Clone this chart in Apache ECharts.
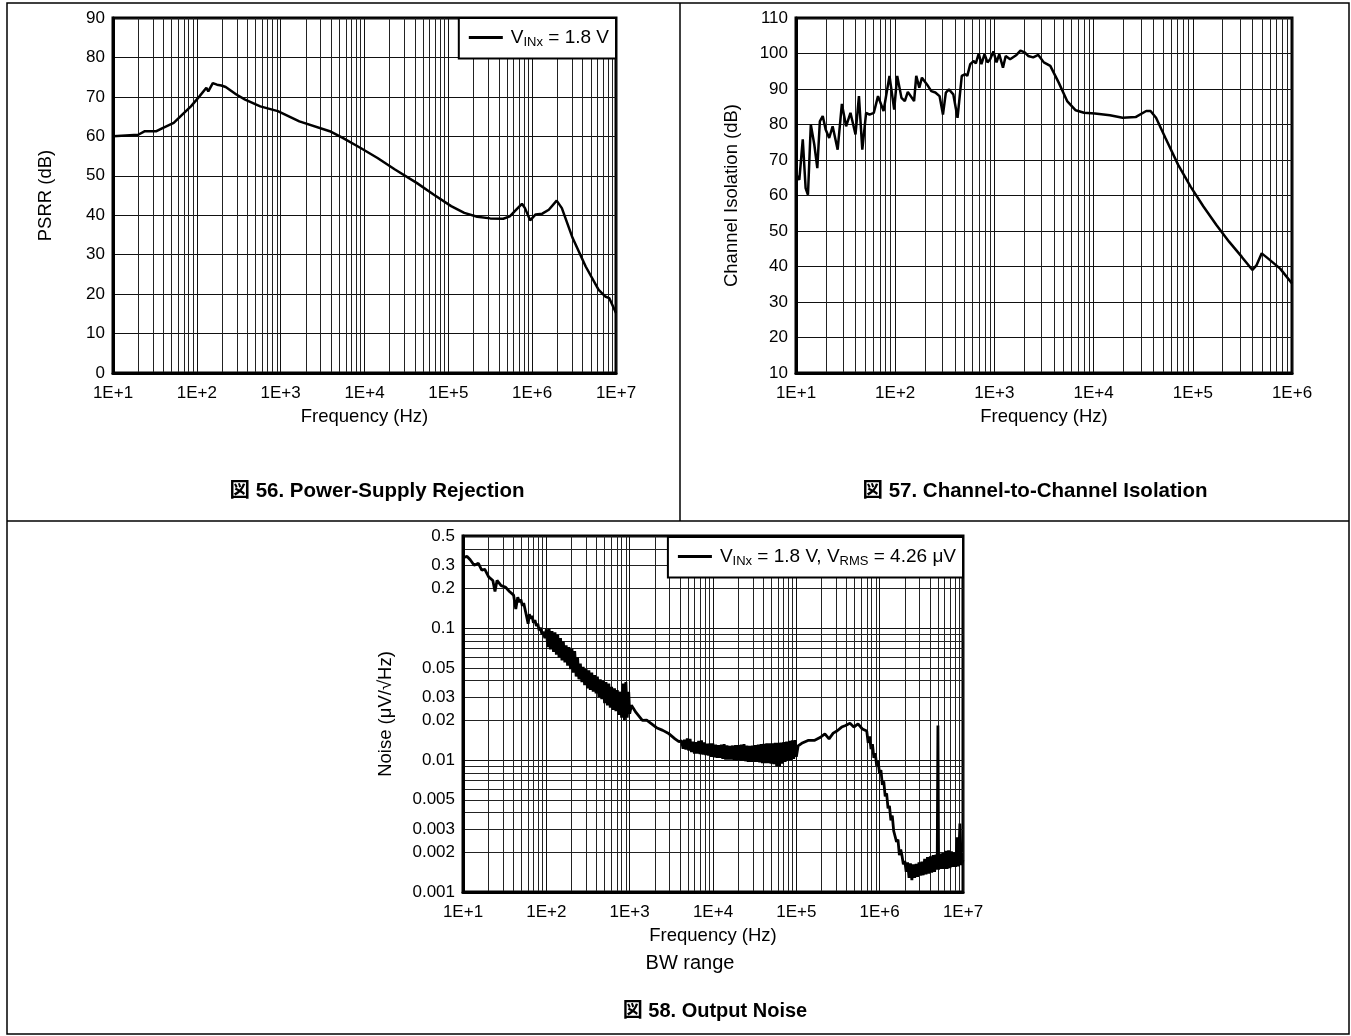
<!DOCTYPE html>
<html>
<head>
<meta charset="utf-8">
<script src="https://cdn.jsdelivr.net/npm/echarts@6/dist/echarts.min.js"></script>
<style>
html, body { margin: 0; padding: 0; background: #fff; }
#main { width: 1351px; height: 1036px; }
</style>
</head>
<body>
<div id="main"></div>
<script>
// ---- figure 56: PSRR ----
var psrrFreq = [10, 20, 24, 33, 39, 53, 67, 85, 108, 130, 137, 155, 174, 196, 221, 296, 377, 571, 925, 1670,
    3850, 5500, 8890, 14300, 23100, 41900, 67300, 108000, 155000, 221000, 316000, 452000, 541000, 646000,
    755000, 820000, 946000, 1100000, 1320000, 1580000, 1960000, 2260000, 3040000, 4350000, 6210000,
    7430000, 8300000, 10000000];
var psrrDb = [60.0, 60.4, 61.3, 61.3, 62.1, 63.4, 65.5, 67.6, 70.2, 72.3, 71.4, 73.5, 73.1, 72.9, 72.5, 70.6,
    69.3, 67.6, 66.4, 63.8, 61.3, 59.6, 57.1, 54.5, 51.6, 48.2, 45.2, 42.3, 40.6, 39.6, 39.2, 39.1, 39.7, 41.4,
    42.9, 41.8, 38.7, 40.2, 40.4, 41.4, 43.7, 41.8, 34.2, 27.0, 21.1, 19.4, 19.0, 15.2];

// ---- figure 57: channel isolation ----
var isoFreq = [10, 10.8, 11.7, 12.5, 13.2, 14.1, 15.3, 16.4, 17.4, 18.6, 19.9, 21.6, 23.4, 26.3, 29.0, 32.0,
    35.4, 39.8, 43.1, 46.6, 50.9, 55.1, 60.9, 67.1, 76.3, 87.6, 97.7, 104.8, 115.7, 125, 134, 155, 163, 175,
    186, 209, 231, 254, 280, 303, 324, 348, 385, 425, 469, 508, 533, 571, 620, 650, 695, 740, 795, 852, 906,
    978, 1050, 1120, 1220, 1300, 1440, 1670, 1830, 2020, 2190, 2460, 2770, 3150, 3660, 4450, 5410, 6600,
    8000, 10300, 14600, 19600, 26500, 33900, 37500, 42600, 53000, 71000, 95000, 128000, 173000, 232000,
    312000, 399000, 440000, 495000, 560000, 760000, 1000000];
var isoDb = [66.0, 64.4, 75.8, 62.1, 60.2, 80.0, 74.3, 67.7, 80.9, 82.4, 78.6, 76.2, 79.5, 72.9, 85.8, 79.5,
    83.3, 77.2, 88.0, 72.9, 83.3, 82.8, 83.3, 88.0, 83.8, 93.7, 84.2, 93.7, 87.5, 86.6, 89.2, 86.6, 93.7, 90.4,
    93.2, 91.3, 89.4, 89.0, 88.0, 82.8, 89.0, 89.9, 88.5, 81.9, 93.7, 94.2, 93.7, 97.0, 97.9, 97.2, 100.0, 97.0,
    99.8, 97.5, 98.4, 100.6, 97.5, 99.8, 96.0, 99.3, 98.4, 99.6, 100.8, 100.3, 99.3, 98.9, 99.6, 97.5, 96.5,
    91.8, 86.6, 84.0, 83.3, 83.1, 82.6, 81.9, 82.1, 83.8, 83.8, 81.9, 76.2, 68.7, 62.5, 56.9, 51.7, 47.0, 42.7,
    39.0, 40.4, 43.7, 42.5, 39.4, 35.2];

// ---- figure 58: output noise (noisy bands read as upper/lower excursions) ----
var noiseFreq = [10, 11.2, 12.2, 13.6, 15.3, 16.8, 18.2, 20.3, 22.8, 24.2, 25.6, 28.7, 32.2, 36.1, 40.5, 43,
    45.4, 47.5, 49.5, 51.5, 53.5, 55.7, 58, 60.5, 62.5, 65, 67.5, 70, 73, 76, 79, 82, 85, 88.5, 92, 96,
    100, 104, 108, 112, 117, 122, 127, 132, 137, 142, 148, 154, 160, 167, 173, 180, 187, 195, 203, 211, 219,
    228, 237, 246, 256, 267, 277, 288, 300, 312, 324, 337, 351, 365, 379, 395, 410, 427, 444, 462, 480, 500,
    520, 540, 562, 585, 608, 632, 658, 684, 711, 740, 770, 800, 832, 866, 900, 936, 974, 1000,
    1050, 1190, 1420, 1600, 1800, 2100, 2500, 2900, 3500, 3900,
    4200, 4370, 4540, 4720, 4910, 5110, 5310, 5520, 5750, 5980, 6220, 6460, 6720, 6990, 7270, 7560, 7860,
    8180, 8500, 8840, 9200, 9570, 9950, 10350, 10760, 11190, 11640, 12100, 12590, 13090, 13610, 14160,
    14720, 15310, 15930, 16560, 17230, 17910, 18630, 19370, 20150, 20950, 21790, 22660, 23570, 24510,
    25490, 26510, 27570, 28670, 29820, 31010, 32250, 33540, 34880, 36280, 37730, 39240, 40810, 42440,
    44140, 45900, 47740, 49650, 51630, 53700, 55850, 58080, 60400, 62820, 65330, 67940, 70660, 73490,
    76420, 79480, 82660, 85970, 89410, 92980, 96700, 100000,
    105000, 116000, 138000, 164000, 195000, 220000, 247000, 277000, 310000, 350000, 390000, 440000, 490000,
    550000, 620000,
    700000, 728000, 757000, 787000, 819000, 852000, 886000, 921000, 958000, 996000, 1036000, 1077000,
    1120000, 1165000, 1212000, 1260000, 1310000, 1363000, 1417000, 1474000, 1533000, 1594000, 1658000,
    1724000, 1790000,
    1850000, 1924000, 2001000, 2081000, 2164000, 2251000, 2341000, 2435000, 2532000, 2633000, 2738000,
    2848000, 2962000, 3080000, 3203000, 3331000, 3465000, 3603000, 3748000, 3898000, 4054000, 4216000,
    4384000, 4560000, 4742000, 4900000, 5000000, 5100000, 5300000, 5510000, 5730000, 5960000, 6200000,
    6450000, 6710000, 6980000, 7260000, 7550000, 7850000, 8160000, 8490000, 8830000, 9180000, 9550000,
    10000000];
var noiseVal = [0.343, 0.35, 0.33, 0.30, 0.31, 0.275, 0.28, 0.245, 0.23, 0.19, 0.23, 0.21, 0.205, 0.19, 0.178,
    0.14, 0.172, 0.158, 0.165, 0.148, 0.155, 0.138, 0.140, 0.108, 0.128, 0.118, 0.124, 0.110, 0.115, 0.104,
    0.108, 0.096, 0.101, 0.090, 0.094, 0.084,
    0.098, 0.072, 0.099, 0.069, 0.095, 0.066, 0.093, 0.063, 0.089, 0.060, 0.084, 0.057, 0.079, 0.055, 0.074,
    0.052, 0.072, 0.049, 0.070, 0.046, 0.067, 0.043, 0.060, 0.041, 0.054, 0.039, 0.051, 0.037, 0.049, 0.035,
    0.048, 0.034, 0.046, 0.033, 0.044, 0.032, 0.043, 0.030, 0.041, 0.029, 0.040, 0.027, 0.039, 0.026, 0.038,
    0.025, 0.036, 0.024, 0.035, 0.0235, 0.034, 0.022, 0.033, 0.021, 0.038, 0.020, 0.039, 0.021, 0.033, 0.0225,
    0.026, 0.023, 0.020, 0.0201, 0.019, 0.0176, 0.0168, 0.016, 0.0145, 0.0138,
    0.0140, 0.0122, 0.0143, 0.0120, 0.0146, 0.0118, 0.0145, 0.0115, 0.0138, 0.0112, 0.0137, 0.0112, 0.0140,
    0.0111, 0.0141, 0.0110, 0.0136, 0.0109, 0.0133, 0.0108, 0.0134, 0.0106, 0.0134, 0.0105, 0.0131, 0.0104,
    0.0130, 0.0104, 0.0131, 0.0102, 0.0132, 0.0101, 0.0129, 0.0101, 0.0128, 0.0101, 0.0129, 0.0100, 0.0130,
    0.0099, 0.0130, 0.0099, 0.0131, 0.0099, 0.0132, 0.0098, 0.0129, 0.0097, 0.0128, 0.0097, 0.0129, 0.0097,
    0.0130, 0.0097, 0.0131, 0.0096, 0.0132, 0.0095, 0.0133, 0.0095, 0.0134, 0.0095, 0.0134, 0.0094, 0.0134,
    0.0093, 0.0135, 0.0090, 0.0135, 0.0089, 0.0136, 0.0094, 0.0137, 0.0097, 0.0138, 0.0099, 0.0140, 0.0100,
    0.0141, 0.0102, 0.0142, 0.0106,
    0.0128, 0.0134, 0.0141, 0.0141, 0.0149, 0.0158, 0.0145, 0.016, 0.0167, 0.0178, 0.0183, 0.019, 0.0178,
    0.0188, 0.0172,
    0.0166, 0.0135, 0.0151, 0.0121, 0.0132, 0.0104, 0.0113, 0.0090, 0.0099, 0.0079, 0.0084, 0.0065, 0.0069,
    0.0053, 0.0056, 0.0043, 0.0045, 0.0035, 0.0038, 0.0029, 0.0030, 0.0024, 0.0025, 0.0019, 0.0021,
    0.00190, 0.00162, 0.00172, 0.00142, 0.00168, 0.00128, 0.00165, 0.00123, 0.00162, 0.00128, 0.00163,
    0.00130, 0.00168, 0.00133, 0.00170, 0.00134, 0.00178, 0.00136, 0.00184, 0.00138, 0.00186, 0.00140,
    0.00190, 0.00142, 0.00192, 0.00148, 0.0183, 0.00148, 0.00195, 0.00150, 0.00198, 0.00150, 0.00205,
    0.00150, 0.00207, 0.00152, 0.00203, 0.00155, 0.00200, 0.00155, 0.00260, 0.00156, 0.00330, 0.00160,
    0.00175];
var noiseTicks = [0.001, 0.002, 0.003, 0.005, 0.01, 0.02, 0.03, 0.05, 0.1, 0.2, 0.3, 0.5];

var FONT = '"Liberation Sans", Arial, "Noto Sans CJK JP", sans-serif';
var myChart = echarts.init(document.getElementById('main'));

function zip(xs, ys) {
    return xs.map(function (x, i) { return [x, ys[i]]; });
}
function freqLabel(v) {
    return '1E+' + Math.round(Math.log10(v));
}

function freqAxis(idx, max) {
    return {
        type: 'log', logBase: 10, gridIndex: idx, min: 10, max: max,
        name: 'Frequency (Hz)', nameLocation: 'middle', nameGap: 35,
        nameTextStyle: { color: '#000', fontSize: 18.5, fontFamily: FONT },
        axisLine: { show: true, lineStyle: { color: '#000', width: 3 } },
        axisTick: { show: false },
        axisLabel: { color: '#000', fontSize: 17, fontFamily: FONT, margin: 12, formatter: freqLabel },
        splitLine: { show: true, lineStyle: { color: '#111', width: 1 } },
        minorTick: { show: false, splitNumber: 9 },
        minorSplitLine: { show: true, lineStyle: { color: '#222', width: 1 } }
    };
}

function dbAxis(idx, min, max, name, gap) {
    return {
        type: 'value', gridIndex: idx, min: min, max: max, interval: 10,
        name: name, nameLocation: 'middle', nameGap: gap,
        nameTextStyle: { color: '#000', fontSize: 18.5, fontFamily: FONT },
        axisLine: { show: true, lineStyle: { color: '#000', width: 3 } },
        axisTick: { show: false },
        axisLabel: { color: '#000', fontSize: 17, fontFamily: FONT, margin: 8 },
        splitLine: { show: true, lineStyle: { color: '#111', width: 1 } }
    };
}

var legendRich = {
    g: { width: 3 },
    n: { fontSize: 19, fontFamily: FONT, color: '#000', lineHeight: 22 },
    s: { fontSize: 13, fontFamily: FONT, color: '#000', lineHeight: 13, verticalAlign: 'bottom' }
};

function legendOf(seriesName, right, top, text) {
    return {
        data: [seriesName], right: right, top: top, orient: 'horizontal',
        selectedMode: false, icon: 'rect', itemWidth: 34, itemHeight: 3,
        padding: [10, 7, 10, 10],
        borderColor: '#000', borderWidth: 2, backgroundColor: '#fff',
        formatter: function () { return text; },
        textStyle: { rich: legendRich }
    };
}

function lineSeries(name, xi, data, width) {
    return {
        name: name, type: 'line', xAxisIndex: xi, yAxisIndex: xi,
        data: data, symbol: 'none', showSymbol: false,
        lineStyle: { color: '#000', width: width }, itemStyle: { color: '#000' },
        clip: true
    };
}

function gridOf(left, top, width, height) {
    return {
        left: left, top: top, width: width, height: height,
        containLabel: false, outerBoundsMode: 'none',
        show: true, borderColor: '#000', borderWidth: 3, backgroundColor: 'transparent'
    };
}

var option = {
    animation: false,
    backgroundColor: '#fff',
    grid: [
        gridOf(113, 18, 503, 355),
        gridOf(796, 18, 496, 355),
        gridOf(463, 536, 500, 356)
    ],
    xAxis: [freqAxis(0, 1e7), freqAxis(1, 1e6), freqAxis(2, 1e7)],
    yAxis: [
        dbAxis(0, 0, 90, 'PSRR (dB)', 58),
        dbAxis(1, 10, 110, 'Channel Isolation (dB)', 55),
        {
            type: 'log', logBase: 10, gridIndex: 2, min: 0.001, max: 0.5,
            name: 'Noise (\u03bcV/\u221aHz)', nameLocation: 'middle', nameGap: 68,
            nameTextStyle: { color: '#000', fontSize: 18.5, fontFamily: FONT },
            axisLine: { show: true, lineStyle: { color: '#000', width: 3 } },
            axisTick: { show: false },
            axisLabel: {
                color: '#000', fontSize: 17, fontFamily: FONT, margin: 8,
                customValues: noiseTicks,
                formatter: function (v) { return String(parseFloat(Number(v).toPrecision(2))); }
            },
            splitLine: { show: true, lineStyle: { color: '#111', width: 1 } },
            minorTick: { show: false, splitNumber: 9 },
            minorSplitLine: { show: true, lineStyle: { color: '#222', width: 1 } }
        }
    ],
    legend: [
        legendOf('psrr', 1351 - 616, 18, '{g|}{n|V}{s|INx}{n| = 1.8 V}'),
        legendOf('noise', 1351 - 963, 537, '{g|}{n|V}{s|INx}{n| = 1.8 V, V}{s|RMS}{n| = 4.26 \u03bcV}')
    ],
    series: [
        lineSeries('psrr', 0, zip(psrrFreq, psrrDb), 2.5),
        lineSeries('iso', 1, zip(isoFreq, isoDb), 2.5),
        lineSeries('noise', 2, zip(noiseFreq, noiseVal), 2.8)
    ],
    graphic: [
        { type: 'rect', silent: true, z: 100, shape: { x: 7, y: 3, width: 1342, height: 1031 },
          style: { fill: 'none', stroke: '#000', lineWidth: 1.5 } },
        { type: 'line', silent: true, z: 100, shape: { x1: 680, y1: 3, x2: 680, y2: 521 },
          style: { stroke: '#000', lineWidth: 1.5 } },
        { type: 'line', silent: true, z: 100, shape: { x1: 7, y1: 521, x2: 1349, y2: 521 },
          style: { stroke: '#000', lineWidth: 1.5 } },
        { type: 'text', silent: true, x: 377, y: 491,
          style: { text: '\u56f3 56. Power-Supply Rejection', font: 'bold 20.5px ' + FONT, fill: '#000',
                   textAlign: 'center', textVerticalAlign: 'middle' } },
        { type: 'text', silent: true, x: 1035, y: 491,
          style: { text: '\u56f3 57. Channel-to-Channel Isolation', font: 'bold 20.5px ' + FONT, fill: '#000',
                   textAlign: 'center', textVerticalAlign: 'middle' } },
        { type: 'text', silent: true, x: 690, y: 963,
          style: { text: 'BW range', font: '20px ' + FONT, fill: '#000',
                   textAlign: 'center', textVerticalAlign: 'middle' } },
        { type: 'text', silent: true, x: 715, y: 1011,
          style: { text: '\u56f3 58. Output Noise', font: 'bold 20px ' + FONT, fill: '#000',
                   textAlign: 'center', textVerticalAlign: 'middle' } }
    ]
};

myChart.setOption(option);
</script>
</body>
</html>
